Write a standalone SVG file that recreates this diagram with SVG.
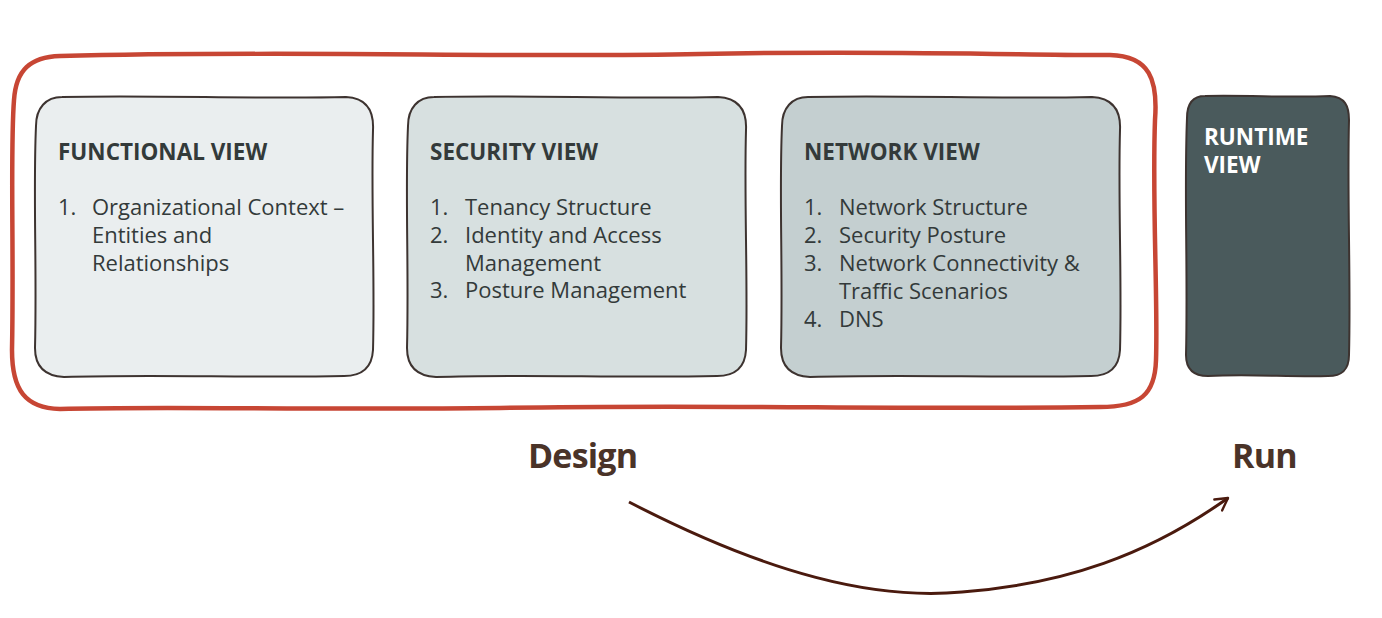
<svg xmlns="http://www.w3.org/2000/svg" width="1382" height="618" viewBox="0 0 1382 618">
<style>
.box{stroke:#3d3330;stroke-width:2;}
.t{font-family:"Open Sans","Noto Sans",sans-serif;font-weight:700;font-size:22.5px;fill:#333a3a;}
.i{font-family:"Open Sans","Noto Sans",sans-serif;font-size:22px;fill:#333a3a;}
.lbl{font-family:"Open Sans","Noto Sans",sans-serif;font-weight:700;font-size:34px;fill:#4a3328;letter-spacing:-0.8px;}
</style>
<defs>
<marker id="ah" viewBox="0 0 12 12" refX="10" refY="6" markerWidth="16" markerHeight="16" orient="auto" markerUnits="userSpaceOnUse">
<path d="M1,1 L10,6 L1,11" fill="none" stroke="#4a1a0e" stroke-width="1.8" stroke-linecap="round" stroke-linejoin="round"/>
</marker>
</defs>
<rect width="1382" height="618" fill="#ffffff"/>
<g id="design-group">
<path d="M60,56 C300,50 500,58 700,54 C900,50 1050,56 1110,55 C1150,56 1158,80 1155,120 C1152,200 1158,300 1156,360 C1155,395 1140,407 1100,407 C900,410 700,404 500,408 C300,410 150,406 60,409 C25,408 12,390 12,350 C14,250 10,150 14,100 C16,70 30,57 60,56 Z" fill="none" stroke="#c74634" stroke-width="4.5" stroke-linejoin="round"/>
</g>
<g id="functional-view">
<path class="box" d="M62,97 C150,95 260,99 346,97 C366,98 374,110 373,130 C371,200 375,280 373,350 C372,368 362,376 344,376 C250,378 150,374 64,377 C44,376 35,366 35,348 C37,270 33,190 36,126 C36,108 46,97 62,97 Z" fill="#eaeeef"/>
<text class="t" x="58" y="160">FUNCTIONAL VIEW</text>
<text class="i" x="58" y="215">1.</text>
<text class="i" x="92" y="215">Organizational Context –<tspan x="92" y="243">Entities and</tspan><tspan x="92" y="271">Relationships</tspan></text>
</g>
<g id="security-view">
<path class="box" d="M434,97 C520,95 630,99 718,97 C738,98 747,110 746,130 C744,200 748,280 746,350 C745,368 735,376 717,376 C620,378 520,374 436,377 C416,376 407,366 407,348 C409,270 405,190 408,126 C408,108 418,97 434,97 Z" fill="#d7e0e0"/>
<text class="t" x="430" y="160">SECURITY VIEW</text>
<text class="i" x="430" y="215">1.</text>
<text class="i" x="465" y="215">Tenancy Structure</text>
<text class="i" x="430" y="243">2.</text>
<text class="i" x="465" y="243">Identity and Access<tspan x="465" y="271">Management</tspan></text>
<text class="i" x="430" y="298">3.</text>
<text class="i" x="465" y="298">Posture Management</text>
</g>
<g id="network-view">
<path class="box" d="M808,97 C900,95 1000,99 1092,97 C1112,98 1121,110 1120,130 C1118,200 1122,280 1120,350 C1119,368 1109,376 1091,376 C1000,378 900,374 810,377 C790,376 781,366 781,348 C783,270 779,190 782,126 C782,108 792,97 808,97 Z" fill="#c4cfd0"/>
<text class="t" x="804" y="160">NETWORK VIEW</text>
<text class="i" x="804" y="215">1.</text>
<text class="i" x="839" y="215">Network Structure</text>
<text class="i" x="804" y="243">2.</text>
<text class="i" x="839" y="243">Security Posture</text>
<text class="i" x="804" y="271">3.</text>
<text class="i" x="839" y="271">Network Connectivity &amp;<tspan x="839" y="299">Traffic Scenarios</tspan></text>
<text class="i" x="804" y="327">4.</text>
<text class="i" x="839" y="327">DNS</text>
</g>
<g id="runtime-view">
<path class="box" d="M1205,96 C1250,95 1290,98 1330,96 C1345,97 1349,106 1349,120 C1347,200 1351,280 1349,355 C1349,370 1342,376 1328,376 C1290,377 1250,374 1208,376 C1193,376 1186,368 1186,355 C1188,270 1184,190 1187,118 C1187,104 1193,96 1205,96 Z" fill="#4a5a5c"/>
<text class="t" x="1204" y="145" style="fill:#ffffff">RUNTIME<tspan x="1204" y="173">VIEW</tspan></text>
</g>
<g id="labels">
<text class="lbl" x="528" y="468">Design</text>
<text class="lbl" x="1232" y="468">Run</text>
</g>
<g id="connectors">
<path d="M629,502 C770,575 875,600 962,592 C1065,584 1148,555 1228,498" fill="none" stroke="#4a1a0e" stroke-width="3" marker-end="url(#ah)"/>
</g>
</svg>
